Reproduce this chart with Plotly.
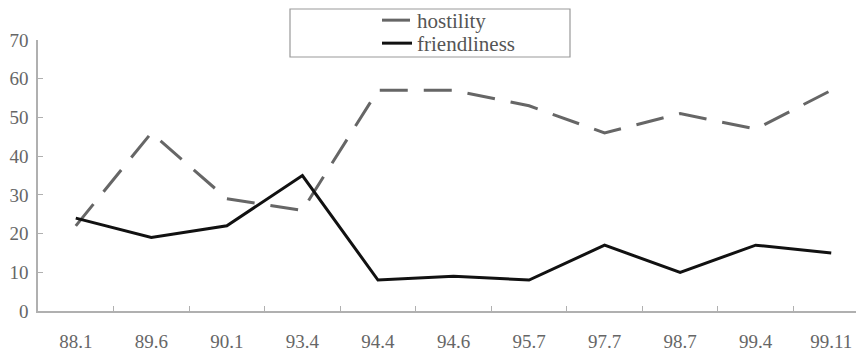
import plotly.graph_objects as go

periods = ["88.1", "89.6", "90.1", "93.4", "94.4", "94.6", "95.7", "97.7", "98.7", "99.4", "99.11"]
hostility = [22, 46, 29, 26, 57, 57, 53, 46, 51, 47, 57]
friendliness = [24, 19, 22, 35, 8, 9, 8, 17, 10, 17, 15]
y_ticks = [0, 10, 20, 30, 40, 50, 60, 70]

W, H = 864, 353
# page has an 8px body offset; margins compensate
L, R, T, B = 30, 3, 32, 50
PW = W - L - R
PH = H - T - B


def px(x):  # page x -> paper x
    return (x - 8 - L) / PW


def py(y):  # page y -> paper y
    return (H - B - (y - 8)) / PH


fig = go.Figure()
fig.add_trace(go.Scatter(x=periods, y=hostility, name="hostility", mode="lines",
                         legend="legend",
                         line=dict(color="#666666", width=3, dash="28px,16px")))
fig.add_trace(go.Scatter(x=periods, y=friendliness, name="friendliness", mode="lines",
                         legend="legend2",
                         line=dict(color="#111111", width=3)))

font_family = "Liberation Serif, Times New Roman, serif"
legend_common = dict(xanchor="left", yanchor="top", bgcolor="rgba(255,255,255,0)",
                     borderwidth=0, itemwidth=30,
                     font=dict(family=font_family, size=21, color="#555555"))
fig.update_layout(
    width=W, height=H,
    margin=dict(l=L, r=R, t=T, b=B, pad=0, autoexpand=False),
    paper_bgcolor="white", plot_bgcolor="white",
    font=dict(family=font_family, size=19, color="#666666"),
    showlegend=True,
    legend=dict(x=px(377), y=py(0), **legend_common),
    legend2=dict(x=px(377), y=py(23), **legend_common),
    xaxis=dict(type="category", range=[-0.5, 10.5], showgrid=False, zeroline=False,
               showline=True, linecolor="#b0b0b0", linewidth=1.5,
               ticks="inside", ticklen=5, tickcolor="#b0b0b0", tickson="boundaries",
               tickfont=dict(family=font_family, size=19, color="#666666"),
               ticklabelstandoff=12, fixedrange=True),
    yaxis=dict(range=[0, 70], tickvals=y_ticks, showgrid=False, zeroline=False,
               showline=True, linecolor="#b0b0b0", linewidth=1.5,
               ticks="inside", ticklen=5, tickcolor="#b0b0b0",
               tickfont=dict(family=font_family, size=19, color="#666666"),
               ticklabelstandoff=4),
)
# legend frame
fig.add_shape(type="rect", xref="paper", yref="paper",
              x0=px(290), x1=px(570), y0=py(57), y1=py(9),
              line=dict(color="#999999", width=1.2), fillcolor="rgba(0,0,0,0)")

fig.write_html("out.html")
